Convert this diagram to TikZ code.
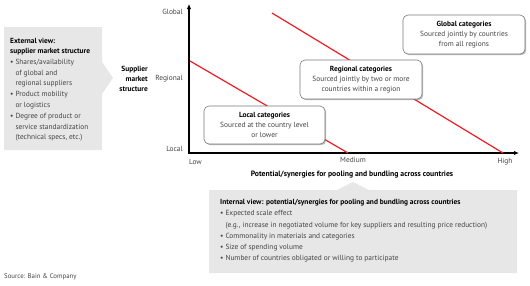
\documentclass[tikz,border=0pt]{standalone}
\usepackage{fontspec}
\setmainfont{PT Sans}
\usetikzlibrary{arrows.meta,shadows}
\definecolor{panelgray}{HTML}{E7E7E7}
\definecolor{txtgray}{HTML}{444444}
\definecolor{boxline}{HTML}{7A7A7A}
\definecolor{redline}{HTML}{EE1C25}
\tikzset{
  basefont/.style={font=\fontsize{7.4}{10}\selectfont, inner sep=0pt},
  cat/.style={draw=boxline, line width=0.6pt, fill=white, rounded corners=5pt,
    drop shadow={shadow xshift=1.2pt, shadow yshift=-1.2pt, opacity=0.5, fill=black!55},
    minimum width=#1, minimum height=38pt, align=center, text=txtgray,
    font=\fontsize{7.4}{10}\selectfont, inner sep=0pt},
  axlabel/.style={basefont, text=txtgray},
  ttl/.style={basefont, font=\fontsize{7.4}{10}\selectfont\bfseries, text=black},
  panel/.style={fill=panelgray, draw=none},
  axis/.style={line width=1.8pt, black, {Latex[length=5pt,width=4.5pt]}-{Latex[length=5pt,width=4.5pt]}},
  sep/.style={redline, line width=1.2pt}
}
\begin{document}
\begin{tikzpicture}[x=1pt,y=-1pt]
\useasboundingbox (0,0) rectangle (530,285);
% left panel
\path[panel] (4,27) -- (102,27) -- (102,62) -- (113,78) -- (102,94) -- (102,150) -- (4,150) -- cycle;
\node[basefont, anchor=north west, align=left, text=txtgray,
      font=\fontsize{7.4}{10.8}\selectfont] (ext) at (10,38)
 {{\bfseries\color{black}External view:}\\[-0.8pt]
  {\bfseries\color{black}supplier market structure}\\
  \textbullet\ Shares/availability\\
  \hphantom{\textbullet\ }of global and\\
  \hphantom{\textbullet\ }regional suppliers\\
  \textbullet\ Product mobility\\
  \hphantom{\textbullet\ }or logistics\\
  \textbullet\ Degree of product or\\
  \hphantom{\textbullet\ }service standardization\\
  \hphantom{\textbullet\ }(technical specs, etc.)};
% bottom panel
\path[panel] (209,190) -- (337,190) -- (353,182) -- (369,190) -- (517,190) -- (517,273) -- (209,273) -- cycle;
\node[basefont, anchor=north west, align=left, text=txtgray,
      font=\fontsize{7.4}{11.3}\selectfont] (int) at (220,199)
 {{\bfseries\color{black}Internal view: potential/synergies for pooling and bundling across countries}\\
  \textbullet\ Expected scale effect\\
  \hphantom{\textbullet\ }(e.g., increase in negotiated volume for key suppliers and resulting price reduction)\\
  \textbullet\ Commonality in materials and categories\\
  \textbullet\ Size of spending volume\\
  \textbullet\ Number of countries obligated or willing to participate};
% y axis title
\node[ttl, anchor=east, align=right, font=\fontsize{7.4}{10}\selectfont\bfseries] (yt) at (148,78.5)
 {Supplier\\market\\structure};
% axis labels
\node[axlabel, anchor=east] (glob) at (183,12) {Global};
\node[axlabel, anchor=east] (reg) at (183,79) {Regional};
\node[axlabel, anchor=east] (loc) at (183,149) {Local};
\node[axlabel, anchor=west] (low) at (189,162) {Low};
\node[axlabel] (med) at (353,160) {Medium};
\node[axlabel] (high) at (505,162) {High};
\node[ttl, font=\fontsize{7.7}{10}\selectfont\bfseries] (xt) at (352,174.5) {Potential/synergies for pooling and bundling across countries};
% axes
\coordinate (ytop) at (189,4);
\coordinate (orig) at (189,153);
\coordinate (xend) at (519,153);
\draw[axis] (ytop) -- (orig) -- (xend);
% red separators
\coordinate (l1a) at (190,61);
\coordinate (l1b) at (348,153);
\coordinate (l2a) at (272,13);
\coordinate (l2b) at (503,153);
\draw[sep] (l1a) -- (l1b);
\draw[sep] (l2a) -- (l2b);
% category boxes
\node[cat=121pt] (lc) at (264.5,125) {{\bfseries\color{black}Local categories}\\Sourced at the country level\\or lower};
\node[cat=122pt, minimum height=39pt] (rc) at (361,79.5) {{\bfseries\color{black}Regional categories}\\Sourced jointly by two or more\\countries within a region};
\node[cat=122pt, minimum height=39pt] (gc) at (464,34.5) {{\bfseries\color{black}Global categories}\\Sourced jointly by countries\\from all regions};
% source
\node[axlabel, anchor=west, font=\fontsize{6.8}{8}\selectfont] (src) at (4,277) {Source: Bain \& Company};
\end{tikzpicture}
\end{document}
